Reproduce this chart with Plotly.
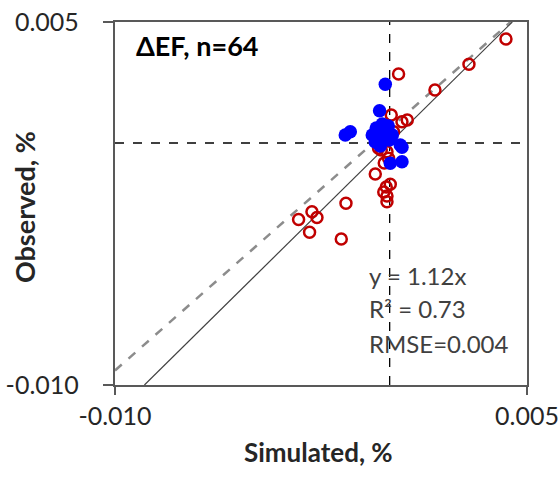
import plotly.graph_objects as go

# Data (values in %)
red_sim = [0.004234, 0.002887, 0.001649, 0.000324, 0.000058, 0.000448, 0.000641, 0.000142,
           -0.000404, -0.000098, -0.000040, -0.000197, -0.000524, 0.000022, -0.000124,
           -0.000215, -0.000098, -0.000098, -0.001591, -0.002829, -0.003316, -0.002647,
           -0.002916, -0.001762, -0.000306]
red_obs = [0.004298, 0.003252, 0.002190, 0.002851, 0.001157, 0.000880, 0.000950, 0.000467,
           -0.000219, -0.000360, -0.000632, -0.000826, -0.001281, -0.001707, -0.001818,
           -0.002025, -0.002190, -0.002426, -0.002492, -0.002839, -0.003161, -0.003079,
           -0.003690, -0.003967, -0.000289]

blue_sim = [-0.000488, -0.000269, -0.000051, -0.000633, -0.000378, -0.000123, 0.000095,
            -0.000524, -0.000269, -0.000015, -0.000342, -0.000160, -0.000415,
            -0.000160, -0.000368, -0.001616, -0.001434, 0.000386, 0.000022, 0.000448,
            0.000448]
blue_obs = [0.000620, 0.000785, 0.000702, 0.000331, 0.000372, 0.000413, 0.000331,
            0.000041, 0.000083, 0.000124, -0.000124, 0.000207, 0.000537,
            0.002426, 0.001335, 0.000331, 0.000467, -0.000083, -0.000839, -0.000773,
            -0.000178]

slope = 1.12
x_range = [-0.010, 0.005]
y_range = [-0.010, 0.005]
dash_x = [-0.010, 0.0044]
dash_y = [-0.0094, 0.005]
tick_vals = [-0.010, 0.005]
tick_text = ["-0.010", "0.005"]

FONT = "Lato"
AX = "#595959"
TXT = "#262626"
PAD = "\u00a0\u00a0\u00a0"

fig = go.Figure()

# crosshair at zero
fig.add_trace(go.Scatter(x=[0, 0], y=y_range, mode="lines",
                         line=dict(color="black", width=1.3, dash="dash"),
                         hoverinfo="skip", showlegend=False))
fig.add_trace(go.Scatter(x=x_range, y=[0, 0], mode="lines",
                         line=dict(color="black", width=1.3, dash="dash"),
                         hoverinfo="skip", showlegend=False))
# dashed gray reference line
fig.add_trace(go.Scatter(x=dash_x, y=dash_y, mode="lines",
                         line=dict(color="#8c8c8c", width=2.5, dash="dash"),
                         hoverinfo="skip", showlegend=False))
# regression line y = 1.12x
fig.add_trace(go.Scatter(x=[y_range[0] / slope, y_range[1] / slope], y=y_range, mode="lines",
                         line=dict(color="#404040", width=1.2),
                         hoverinfo="skip", showlegend=False))

fig.add_trace(go.Scatter(x=red_sim, y=red_obs, mode="markers",
                         marker=dict(symbol="circle-open", size=11, color="#C00000",
                                     line=dict(width=2.5, color="#C00000")),
                         showlegend=False))
fig.add_trace(go.Scatter(x=blue_sim, y=blue_obs, mode="markers",
                         marker=dict(symbol="circle", size=13.5, color="#0000FF",
                                     line=dict(width=0)),
                         showlegend=False))

fig.update_layout(
    width=559, height=478,
    margin=dict(l=115, r=32, t=22, b=93),
    paper_bgcolor="white", plot_bgcolor="white",
    font=dict(family=FONT, color=TXT),
    xaxis=dict(range=x_range, tickvals=tick_vals, ticktext=tick_text,
               automargin=False,
               showgrid=False, zeroline=False, showline=True, linecolor=AX, linewidth=2,
               mirror=True, ticks="outside", ticklen=8, tickwidth=2, tickcolor=AX,
               tickfont=dict(size=25, family=FONT, color=TXT)),
    yaxis=dict(range=y_range, tickvals=tick_vals, ticktext=[t + PAD for t in tick_text],
               automargin=False,
               showgrid=False, zeroline=False, showline=True, linecolor=AX, linewidth=2,
               mirror=True, ticks="outside", ticklen=10, tickwidth=2, tickcolor=AX,
               tickfont=dict(size=25, family=FONT, color=TXT)),
    annotations=[
        dict(text="<b>Simulated, %</b>", x=0.495, y=-0.185, xref="paper", yref="paper",
             xanchor="center", yanchor="middle", showarrow=False,
             font=dict(size=26, family=FONT, color=TXT)),
        dict(text="<b>Observed, %</b>", x=-0.221, y=0.49, xref="paper", yref="paper",
             xanchor="center", yanchor="middle", showarrow=False, textangle=-90,
             font=dict(size=27, family=FONT, color=TXT)),
        dict(text="<b>ΔEF, n=64</b>", x=0.045, y=0.985, xref="paper", yref="paper",
             xanchor="left", yanchor="top", showarrow=False,
             font=dict(size=27, family=FONT, color="black")),
        dict(text="y = 1.12x", x=0.612, y=0.302, xref="paper", yref="paper",
             xanchor="left", yanchor="middle", showarrow=False,
             font=dict(size=24, family=FONT, color="#404040")),
        dict(text="R² = 0.73", x=0.612, y=0.211, xref="paper", yref="paper",
             xanchor="left", yanchor="middle", showarrow=False,
             font=dict(size=24, family=FONT, color="#404040")),
        dict(text="RMSE=0.004", x=0.612, y=0.115, xref="paper", yref="paper",
             xanchor="left", yanchor="middle", showarrow=False,
             font=dict(size=24, family=FONT, color="#404040")),
    ],
)

fig.write_html("out.html")
